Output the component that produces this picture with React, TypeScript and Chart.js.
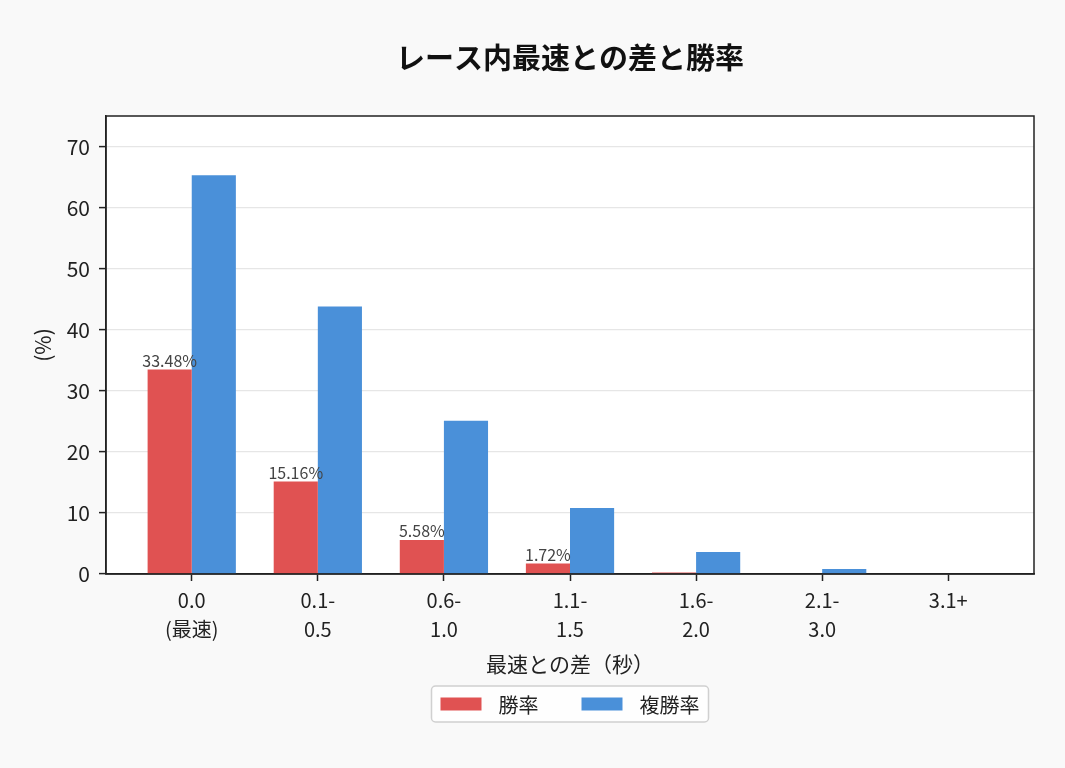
import React, { useEffect, useRef } from 'react';
import { Chart, registerables } from 'chart.js';

Chart.register(...registerables);

const chartTitle = 'レース内最速との差と勝率';
const categories = ['0.0\n(最速)', '0.1-\n0.5', '0.6-\n1.0', '1.1-\n1.5', '1.6-\n2.0', '2.1-\n3.0', '3.1+'];
const winRate = [33.48, 15.16, 5.58, 1.72, 0.25, 0.0, 0.0];
const placeRate = [65.3, 43.8, 25.1, 10.8, 3.6, 0.8, 0.0];
const yTicks = [0, 10, 20, 30, 40, 50, 60, 70];

const FONT = "'Noto Sans CJK JP', 'Noto Sans', sans-serif";
const RED = 'rgba(224, 82, 82, 1)';
const BLUE = 'rgba(74, 144, 217, 1)';

// white plot background + black frame + title centred over the plot
const framePlugin = {
  id: 'frame',
  beforeDraw(chart: any) {
    const { ctx, chartArea: a } = chart;
    ctx.save();
    ctx.fillStyle = '#ffffff';
    ctx.fillRect(a.left, a.top, a.right - a.left, a.bottom - a.top);
    ctx.restore();
  },
  afterDraw(chart: any) {
    const { ctx, chartArea: a } = chart;
    ctx.save();
    ctx.strokeStyle = '#222';
    ctx.lineWidth = 1.5;
    ctx.strokeRect(a.left, a.top, a.right - a.left, a.bottom - a.top);
    ctx.font = `bold 29px ${FONT}`;
    ctx.fillStyle = '#111';
    ctx.textAlign = 'center';
    ctx.textBaseline = 'middle';
    ctx.fillText(chartTitle, (a.left + a.right) / 2, 58);
    ctx.restore();
  },
};

// value labels above the win-rate bars
const barLabelPlugin = {
  id: 'barLabels',
  afterDatasetsDraw(chart: any) {
    const { ctx } = chart;
    const meta = chart.getDatasetMeta(0);
    ctx.save();
    ctx.font = `16px ${FONT}`;
    ctx.fillStyle = '#444';
    ctx.textAlign = 'center';
    ctx.textBaseline = 'bottom';
    meta.data.forEach((bar: any, i: number) => {
      const v = winRate[i];
      if (v < 1) return;
      ctx.fillText(v.toFixed(2) + '%', bar.x, bar.y - 1);
    });
    ctx.restore();
  },
};

// boxed legend below the x axis title
const boxLegendPlugin = {
  id: 'boxLegend',
  afterDraw(chart: any) {
    const { ctx, chartArea: a } = chart;
    const ds = chart.data.datasets;
    ctx.save();
    ctx.font = `20px ${FONT}`;
    const sw = 41;
    const swH = 13;
    const gap = 17;
    const itemGap = 43;
    const padX = 9;
    const widths = ds.map((d: any) => sw + gap + ctx.measureText(d.label).width);
    const total = widths.reduce((s: number, w: number) => s + w, 0) + itemGap * (ds.length - 1) + padX * 2;
    const cx = (a.left + a.right) / 2;
    const left = cx - total / 2;
    const top = 686;
    const h = 36;
    ctx.fillStyle = 'rgba(255,255,255,0.8)';
    ctx.strokeStyle = '#d0d0d0';
    ctx.lineWidth = 1.5;
    ctx.beginPath();
    ctx.roundRect(left, top, total, h, 4);
    ctx.fill();
    ctx.stroke();
    let x = left + padX;
    const cy = top + h / 2;
    ds.forEach((d: any, i: number) => {
      ctx.fillStyle = d.backgroundColor;
      ctx.fillRect(x, cy - swH / 2, sw, swH);
      ctx.fillStyle = '#222';
      ctx.textAlign = 'left';
      ctx.textBaseline = 'middle';
      ctx.fillText(d.label, x + sw + gap, cy + 1);
      x += widths[i] + itemGap;
    });
    ctx.restore();
  },
};

function BarChart() {
  const canvasRef = useRef<HTMLCanvasElement>(null);
  const chartRef = useRef<Chart | null>(null);

  useEffect(() => {
    if (!canvasRef.current) return;
    if (chartRef.current) chartRef.current.destroy();

    chartRef.current = new Chart(canvasRef.current, {
      type: 'bar',
      data: {
        datasets: [
          {
            label: '勝率',
            data: winRate.map((v, i) => ({ x: i, y: v })),
            backgroundColor: RED,
            categoryPercentage: 0.7,
            barPercentage: 1.0,
          },
          {
            label: '複勝率',
            data: placeRate.map((v, i) => ({ x: i, y: v })),
            backgroundColor: BLUE,
            categoryPercentage: 0.7,
            barPercentage: 1.0,
          },
        ],
      },
      options: {
        responsive: false,
        animation: false,
        layout: { padding: { left: 0, right: 31, top: 116, bottom: 87 } },
        scales: {
          x: {
            type: 'linear',
            min: -0.68,
            max: 6.68,
            offset: false,
            afterBuildTicks: (axis: any) => {
              axis.ticks = categories.map((_, i) => ({ value: i }));
            },
            afterFit: (axis: any) => {
              axis.height = 107;
            },
            grid: {
              display: true,
              offset: false,
              drawOnChartArea: false,
              tickLength: 7,
              tickColor: '#222',
              tickWidth: 1.5,
            },
            border: { color: '#222', width: 1.5 },
            ticks: {
              color: '#222',
              padding: 5,
              font: { family: FONT, size: 20, lineHeight: 1.45 },
              callback: (value: any) => categories[value]?.split('\n') ?? '',
            },
            title: {
              display: true,
              text: '最速との差（秒）',
              color: '#222',
              font: { family: FONT, size: 21 },
              padding: { top: 4, bottom: 4 },
            },
          },
          y: {
            min: 0,
            max: 75,
            afterBuildTicks: (axis: any) => {
              axis.ticks = yTicks.map((v) => ({ value: v }));
            },
            afterFit: (axis: any) => {
              axis.width = 106;
            },
            grid: { color: '#e6e6e6', lineWidth: 1.2, tickLength: 7, tickColor: '#222', tickWidth: 1.5 },
            border: { color: '#222', width: 1.5 },
            ticks: {
              color: '#222',
              padding: 9,
              font: { family: FONT, size: 21 },
            },
            title: {
              display: true,
              text: '(%)',
              color: '#222',
              font: { family: FONT, size: 21 },
              padding: { top: 30, bottom: 4 },
            },
          },
        },
        plugins: {
          legend: { display: false },
          tooltip: { enabled: false },
          title: { display: false },
        },
      },
      plugins: [framePlugin, barLabelPlugin, boxLegendPlugin],
    });

    return () => {
      if (chartRef.current) {
        chartRef.current.destroy();
        chartRef.current = null;
      }
    };
  }, []);

  return <canvas ref={canvasRef} width={1065} height={768} style={{ display: 'block' }} />;
}

export default function App() {
  useEffect(() => {
    document.body.style.margin = '0';
    document.body.style.background = '#f9f9f9';
  }, []);
  return (
    <div style={{ width: 1065, height: 768, background: '#f9f9f9' }}>
      <BarChart />
    </div>
  );
}
